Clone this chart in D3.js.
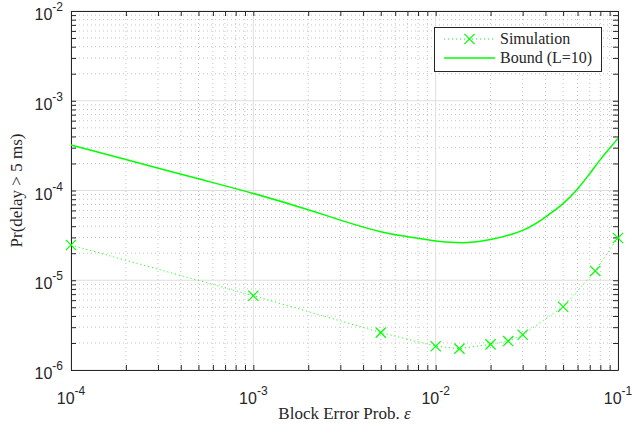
<!DOCTYPE html>
<html>
<head>
<meta charset="utf-8">
<script src="https://cdn.jsdelivr.net/npm/d3@7"></script>
<style>
  body { margin: 0; background: #fff; }
  svg { display: block; }
</style>
</head>
<body>
<div id="chart"></div>
<script>
var chartWidth = 632;
var chartHeight = 425;
var plotLeft = 71, plotRight = 618, plotTop = 11, plotBottom = 370;

// Simulation points
var simEps = [1e-4, 1e-3, 5e-3, 1e-2, 1.35e-2, 2e-2, 2.5e-2, 3e-2, 5e-2, 7.5e-2, 1e-1];
var simProb = [2.47e-5, 6.73e-6, 2.61e-6, 1.84e-6, 1.73e-6, 1.93e-6, 2.10e-6, 2.47e-6, 5.07e-6, 1.27e-5, 2.96e-5];

// Bound (L=10) curve
var boundEps = [1e-4, 2e-4, 5e-4, 1e-3, 2e-3, 3e-3, 5e-3, 7e-3, 1e-2, 1.3e-2, 1.5e-2,
                2e-2, 3e-2, 4e-2, 5e-2, 6e-2, 7e-2, 8e-2, 9e-2, 1e-1];
var boundProb = [3.21e-4, 2.21e-4, 1.35e-4, 9.27e-5, 6.11e-5, 4.68e-5, 3.47e-5, 3.06e-5, 2.74e-5, 2.63e-5, 2.63e-5,
                 2.84e-5, 3.60e-5, 5.06e-5, 7.14e-5, 1.04e-4, 1.54e-4, 2.21e-4, 2.95e-4, 3.82e-4];

var xTicks = [1e-4, 1e-3, 1e-2, 1e-1];
var xTickExp = ['-4', '-3', '-2', '-1'];
var yTicks = [1e-6, 1e-5, 1e-4, 1e-3, 1e-2];
var yTickExp = ['-6', '-5', '-4', '-3', '-2'];

var green = '#00ff00';
var axisColor = '#262626';

var svg = d3.select('#chart')
    .append('svg')
    .attr('width', chartWidth)
    .attr('height', chartHeight);

var scaleX = d3.scaleLog().domain([1e-4, 1e-1]).range([plotLeft, plotRight]);
var scaleY = d3.scaleLog().domain([1e-6, 1e-2]).range([plotBottom, plotTop]);

// minor tick values (2..9 per decade)
function minors(lo, hi) {
  var out = [];
  for (var e = lo; e < hi; e++) {
    for (var m = 2; m <= 9; m++) out.push(m * Math.pow(10, e));
  }
  return out;
}
var xMinor = minors(-4, -1);
var yMinor = minors(-6, -2);

// Grid
var grid = svg.append('g');
grid.selectAll('.gxm').data(xMinor).enter().append('line')
    .attr('x1', function(d) { return scaleX(d); })
    .attr('x2', function(d) { return scaleX(d); })
    .attr('y1', plotTop).attr('y2', plotBottom)
    .attr('stroke', '#c4c4c4').attr('stroke-width', 1)
    .attr('stroke-dasharray', '1,3');
grid.selectAll('.gym').data(yMinor).enter().append('line')
    .attr('y1', function(d) { return scaleY(d); })
    .attr('y2', function(d) { return scaleY(d); })
    .attr('x1', plotLeft).attr('x2', plotRight)
    .attr('stroke', '#c4c4c4').attr('stroke-width', 1)
    .attr('stroke-dasharray', '1,3');
grid.selectAll('.gx').data(xTicks).enter().append('line')
    .attr('x1', function(d) { return scaleX(d); })
    .attr('x2', function(d) { return scaleX(d); })
    .attr('y1', plotTop).attr('y2', plotBottom)
    .attr('stroke', '#dedede').attr('stroke-width', 1);
grid.selectAll('.gy').data(yTicks).enter().append('line')
    .attr('y1', function(d) { return scaleY(d); })
    .attr('y2', function(d) { return scaleY(d); })
    .attr('x1', plotLeft).attr('x2', plotRight)
    .attr('stroke', '#dedede').attr('stroke-width', 1);

// Axes with inward ticks on all four sides
function styleAxis(g) {
  g.selectAll('path').attr('stroke', axisColor);
  g.selectAll('line').attr('stroke', axisColor);
  g.selectAll('text').remove();
}
var allX = xTicks.concat(xMinor);
var allY = yTicks.concat(yMinor);

svg.append('g').attr('transform', 'translate(0,' + plotBottom + ')')
    .call(d3.axisBottom(scaleX).tickValues(allX).tickSizeInner(-5).tickSizeOuter(0).tickFormat(''))
    .call(styleAxis);
svg.append('g').attr('transform', 'translate(0,' + plotTop + ')')
    .call(d3.axisTop(scaleX).tickValues(allX).tickSizeInner(-5).tickSizeOuter(0).tickFormat(''))
    .call(styleAxis);
svg.append('g').attr('transform', 'translate(' + plotLeft + ',0)')
    .call(d3.axisLeft(scaleY).tickValues(allY).tickSizeInner(-5).tickSizeOuter(0).tickFormat(''))
    .call(styleAxis);
svg.append('g').attr('transform', 'translate(' + plotRight + ',0)')
    .call(d3.axisRight(scaleY).tickValues(allY).tickSizeInner(-5).tickSizeOuter(0).tickFormat(''))
    .call(styleAxis);

// Tick labels
var xl = svg.selectAll('.xlab').data(xTicks).enter().append('text')
    .attr('x', function(d) { return scaleX(d); })
    .attr('y', plotBottom + 34)
    .attr('text-anchor', 'middle')
    .attr('font-family', 'Liberation Sans, Arial, sans-serif')
    .attr('font-size', 16)
    .attr('fill', axisColor);
xl.append('tspan').text('10');
xl.append('tspan').attr('dy', -9).attr('font-size', 12)
    .text(function(d, i) { return xTickExp[i]; });

var yl = svg.selectAll('.ylab').data(yTicks).enter().append('text')
    .attr('x', plotLeft - 8)
    .attr('y', function(d) { return scaleY(d) + 9; })
    .attr('text-anchor', 'end')
    .attr('font-family', 'Liberation Sans, Arial, sans-serif')
    .attr('font-size', 16)
    .attr('fill', axisColor);
yl.append('tspan').text('10');
yl.append('tspan').attr('dy', -9).attr('font-size', 12)
    .text(function(d, i) { return yTickExp[i]; });

// Axis titles
var xt = svg.append('text')
    .attr('x', (plotLeft + plotRight) / 2)
    .attr('y', 419)
    .attr('text-anchor', 'middle')
    .attr('font-family', 'Liberation Serif, serif')
    .attr('font-size', 17)
    .attr('fill', axisColor);
xt.append('tspan').text('Block Error Prob. ');
xt.append('tspan').attr('font-style', 'italic').text('\u03b5');

svg.append('text')
    .attr('transform', 'translate(22,' + ((plotTop + plotBottom) / 2) + ') rotate(-90)')
    .attr('text-anchor', 'middle')
    .attr('font-family', 'Liberation Serif, serif')
    .attr('font-size', 17)
    .attr('fill', axisColor)
    .text('Pr(delay > 5 ms)');

// Bound curve
var boundData = boundEps.map(function(e, i) { return [e, boundProb[i]]; });
var line = d3.line()
    .x(function(d) { return scaleX(d[0]); })
    .y(function(d) { return scaleY(d[1]); })
    .curve(d3.curveNatural);
svg.append('path')
    .datum(boundData)
    .attr('d', line)
    .attr('fill', 'none')
    .attr('stroke', green)
    .attr('stroke-width', 1.5);

// Simulation line + markers
var simData = simEps.map(function(e, i) { return [e, simProb[i]]; });
svg.append('path')
    .datum(simData)
    .attr('d', d3.line().x(function(d) { return scaleX(d[0]); }).y(function(d) { return scaleY(d[1]); }))
    .attr('fill', 'none')
    .attr('stroke', green)
    .attr('stroke-width', 1)
    .attr('stroke-dasharray', '1,3');

var cross = d3.symbol().type(d3.symbolTimes).size(70);
svg.selectAll('.mk').data(simData).enter().append('path')
    .attr('d', cross)
    .attr('transform', function(d) { return 'translate(' + scaleX(d[0]) + ',' + scaleY(d[1]) + ')'; })
    .attr('fill', 'none')
    .attr('stroke', green)
    .attr('stroke-width', 1.2);

// Legend
var lg = svg.append('g');
lg.append('rect')
    .attr('x', 434.5).attr('y', 27.5)
    .attr('width', 167).attr('height', 44)
    .attr('fill', '#fff')
    .attr('stroke', axisColor)
    .attr('stroke-width', 1);
lg.append('line')
    .attr('x1', 444).attr('x2', 495).attr('y1', 39).attr('y2', 39)
    .attr('stroke', green).attr('stroke-dasharray', '1,3');
lg.append('path')
    .attr('d', cross)
    .attr('transform', 'translate(469.5,39)')
    .attr('fill', 'none').attr('stroke', green).attr('stroke-width', 1.2);
lg.append('line')
    .attr('x1', 444).attr('x2', 495).attr('y1', 58).attr('y2', 58)
    .attr('stroke', green).attr('stroke-width', 1.5);
lg.append('text')
    .attr('x', 500).attr('y', 44)
    .attr('font-family', 'Liberation Serif, serif')
    .attr('font-size', 16)
    .attr('fill', axisColor)
    .text('Simulation');
lg.append('text')
    .attr('x', 500).attr('y', 63)
    .attr('font-family', 'Liberation Serif, serif')
    .attr('font-size', 16)
    .attr('fill', axisColor)
    .text('Bound (L=10)');
</script>
</body>
</html>
